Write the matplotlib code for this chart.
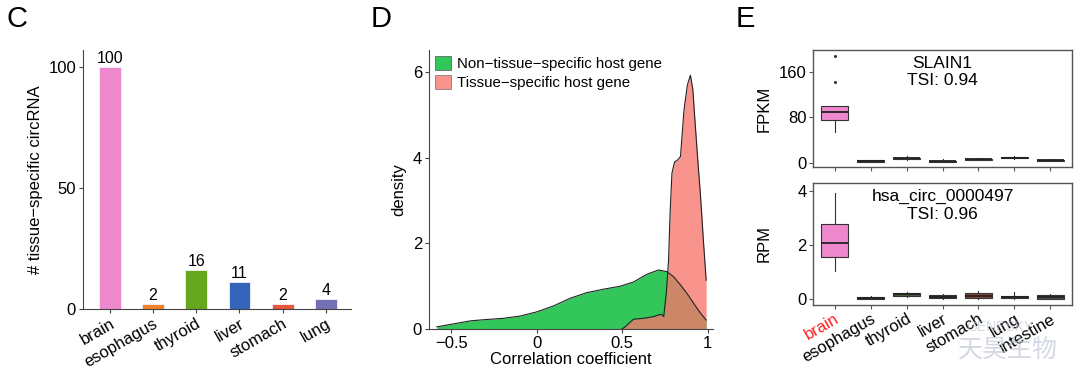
"""Tissue-specific circRNA figure: bar counts, correlation densities and box plots."""

import matplotlib

matplotlib.use("Agg")
import matplotlib.pyplot as plt
from matplotlib.patches import Patch

plt.rcParams["font.family"] = ["Liberation Sans", "DejaVu Sans"]
plt.rcParams["axes.unicode_minus"] = True

# panel C: tissue-specific circRNA counts
tissues_c = ["brain", "esophagus", "thyroid", "liver", "stomach", "lung"]
counts_c = [100, 2, 16, 11, 2, 4]
colors_c = ["#EE88CC", "#F5822A", "#66A61E", "#3366BB", "#E8573A", "#7570B3"]

# panel D: density curves
green_x = [-0.584, -0.5, -0.389, -0.3, -0.194, -0.1, 0.0, 0.098, 0.196, 0.293,
           0.39, 0.488, 0.566, 0.644, 0.712, 0.761, 0.8, 0.84, 0.88, 0.917,
           0.955, 0.99]
green_y = [0.05, 0.11, 0.19, 0.22, 0.25, 0.30, 0.40, 0.54, 0.72, 0.85,
           0.93, 1.00, 1.10, 1.28, 1.38, 1.34, 1.22, 1.03, 0.82, 0.60,
           0.38, 0.21]
red_x = [0.498, 0.52, 0.537, 0.566, 0.6, 0.625, 0.655, 0.683, 0.712, 0.73,
         0.742, 0.757, 0.77, 0.78, 0.79, 0.805, 0.823, 0.84, 0.86, 0.88,
         0.898, 0.912, 0.927, 0.942, 0.956, 0.975, 0.99]
red_y = [0.0, 0.06, 0.13, 0.23, 0.24, 0.25, 0.27, 0.29, 0.33, 0.34,
         0.29, 0.84, 1.6, 2.78, 3.64, 3.9, 3.95, 4.03, 5.1, 5.7,
         5.93, 5.6, 4.73, 3.9, 3.17, 2.0, 1.14]

# panel E: box plot statistics
tissues_e = ["brain", "esophagus", "thyroid", "liver", "stomach", "lung", "intestine"]
colors_e = ["#EE88CC", "#5A4A40", "#4A5A40", "#404858", "#8B4A3A", "#50486A", "#505050"]

fpkm_q1 = [75, 2.5, 7, 2, 5.3, 8.3, 3.6]
fpkm_med = [89, 3.5, 8.1, 3, 6.4, 9.3, 4.6]
fpkm_q3 = [100, 4.5, 9.2, 4, 7.5, 10.3, 5.6]
fpkm_lo = [54, 2, 6, 1.5, 4.5, 7.5, 3]
fpkm_hi = [100, 5, 12.7, 7, 8.5, 12.7, 6.5]
fpkm_out = [[142, 188], [], [], [], [], [], []]

rpm_q1 = [1.55, 0.0, 0.11, 0.03, 0.03, 0.03, 0.0]
rpm_med = [2.07, 0.05, 0.17, 0.09, 0.12, 0.07, 0.08]
rpm_q3 = [2.77, 0.09, 0.23, 0.15, 0.21, 0.11, 0.15]
rpm_lo = [1.05, 0.0, 0.08, 0.0, 0.0, 0.0, 0.0]
rpm_hi = [3.94, 0.12, 0.26, 0.2, 0.31, 0.27, 0.18]
rpm_out = [[], [], [], [], [], [], []]


def box_stats(q1, med, q3, lo, hi, out):
    return [
        {"q1": a, "med": b, "q3": c, "whislo": d, "whishi": e, "fliers": f}
        for a, b, c, d, e, f in zip(q1, med, q3, lo, hi, out)
    ]


def draw_boxes(ax, stats, title, ylabel, yticks, ylim):
    bp = ax.bxp(stats, positions=range(len(stats)), widths=0.75, patch_artist=True,
                showfliers=True,
                boxprops={"edgecolor": "#333333", "linewidth": 0.8},
                medianprops={"color": "#222222", "linewidth": 1.3},
                whiskerprops={"color": "#333333", "linewidth": 0.8},
                capprops={"linewidth": 0},
                flierprops={"marker": "o", "markersize": 1.2, "markerfacecolor": "#333333",
                            "markeredgecolor": "#333333"})
    for patch, color in zip(bp["boxes"], colors_e):
        patch.set_facecolor(color)
    ax.set_xlim(-0.6, len(stats) - 0.4)
    ax.set_ylim(*ylim)
    ax.set_yticks(yticks)
    ax.set_ylabel(ylabel, fontsize=12)
    ax.yaxis.set_label_coords(-0.158, 0.5)
    ax.text(0.5, 0.95, title, transform=ax.transAxes, ha="center", va="top",
            fontsize=12.5, linespacing=1.2)
    for spine in ax.spines.values():
        spine.set_color("#555555")
        spine.set_linewidth(1.0)
    ax.tick_params(length=3, color="#555555", labelsize=12, pad=1.5)


fig = plt.figure(figsize=(10.8, 3.71), dpi=100)

# ---- panel C ----
ax_c = fig.add_axes([83 / 1080, 1 - 309 / 371, 268 / 1080, 259 / 371])
pos_c = range(len(tissues_c))
ax_c.bar(pos_c, counts_c, width=0.5, color=colors_c, edgecolor="#f4f0ff", linewidth=0.6)
for x, v in zip(pos_c, counts_c):
    ax_c.text(x, v + 0.4, str(v), ha="center", va="bottom", fontsize=11.5)
ax_c.set_xlim(-0.62, 5.58)
ax_c.set_ylim(0, 107)
ax_c.set_yticks([0, 50, 100])
ax_c.set_xticks(list(pos_c))
ax_c.set_xticklabels(tissues_c, rotation=30, ha="right", rotation_mode="anchor")
ax_c.set_ylabel("# tissue\u2212specific circRNA", fontsize=12)
ax_c.yaxis.set_label_coords(-0.15, 0.5)
for side in ["top", "right"]:
    ax_c.spines[side].set_visible(False)
for side in ["left", "bottom"]:
    ax_c.spines[side].set_color("#444444")
ax_c.tick_params(length=3, color="#444444", labelsize=12, pad=2)

# ---- panel D ----
ax_d = fig.add_axes([429 / 1080, 1 - 329 / 371, 284 / 1080, 279 / 371])
ax_d.fill_between(green_x, green_y, color="#33C65B", linewidth=0)
ax_d.plot(green_x, green_y, color="#222222", linewidth=0.8)
ax_d.fill_between(red_x, red_y, color="#F8766D", alpha=0.78, linewidth=0)
ax_d.plot(red_x, red_y, color="#222222", linewidth=0.8)
ax_d.set_xlim(-0.63, 1.03)
ax_d.set_ylim(0, 6.52)
ax_d.set_xticks([-0.5, 0, 0.5, 1])
ax_d.set_xticklabels(["\u22120.5", "0", "0.5", "1"])
ax_d.set_yticks([0, 2, 4, 6])
ax_d.set_xlabel("Correlation coefficient", fontsize=12, labelpad=1)
ax_d.set_ylabel("density", fontsize=12)
ax_d.yaxis.set_label_coords(-0.08, 0.5)
for side in ["top", "right"]:
    ax_d.spines[side].set_visible(False)
for side in ["left", "bottom"]:
    ax_d.spines[side].set_color("#444444")
ax_d.tick_params(length=3, color="#444444", labelsize=12, pad=2)
handles = [
    Patch(facecolor="#33C65B", edgecolor="#666666", linewidth=0.6,
          label="Non\u2212tissue\u2212specific host gene"),
    Patch(facecolor="#F8766D", alpha=0.78, edgecolor="#666666", linewidth=0.6,
          label="Tissue\u2212specific host gene"),
]
ax_d.legend(handles=handles, loc="upper left", bbox_to_anchor=(0.0, 1.0), frameon=False,
            fontsize=10.8, handlelength=1.05, handleheight=1.1, handletextpad=0.4,
            labelspacing=0.25, borderpad=0.2, borderaxespad=0.2)

# ---- panel E ----
ax_e1 = fig.add_axes([813 / 1080, 1 - 167 / 371, 259 / 1080, 117 / 371])
ax_e2 = fig.add_axes([813 / 1080, 1 - 305 / 371, 259 / 1080, 122 / 371])
draw_boxes(ax_e1, box_stats(fpkm_q1, fpkm_med, fpkm_q3, fpkm_lo, fpkm_hi, fpkm_out),
           "SLAIN1\nTSI: 0.94", "FPKM", [0, 80, 160], (-7, 198))
draw_boxes(ax_e2, box_stats(rpm_q1, rpm_med, rpm_q3, rpm_lo, rpm_hi, rpm_out),
           "hsa_circ_0000497\nTSI: 0.96", "RPM", [0, 2, 4], (-0.22, 4.3))
ax_e1.set_xticklabels([])
ax_e2.set_xticks(range(len(tissues_e)))
ax_e2.set_xticklabels(tissues_e, rotation=30, ha="right", rotation_mode="anchor", fontsize=12)
ax_e2.get_xticklabels()[0].set_color("#FF2020")

# panel letters
fig.text(7 / 1080, 1 - 5 / 371, "C", fontsize=21, va="top", ha="left")
fig.text(371 / 1080, 1 - 5 / 371, "D", fontsize=21, va="top", ha="left")
fig.text(736 / 1080, 1 - 5 / 371, "E", fontsize=21, va="top", ha="left")

# watermark
fig.text(1000 / 1080, 1 - 327 / 371, "GENESKY", fontsize=10, color="#b8bfd2", alpha=0.6,
         ha="center", va="center", zorder=10)
fig.text(1008 / 1080, 1 - 350 / 371, "天昊生物", fontsize=18, color="#b8bfd2", alpha=0.6,
         ha="center", va="center", zorder=10,
         family=["Noto Sans CJK SC", "DejaVu Sans"])

fig.savefig("out.png", dpi=100)
